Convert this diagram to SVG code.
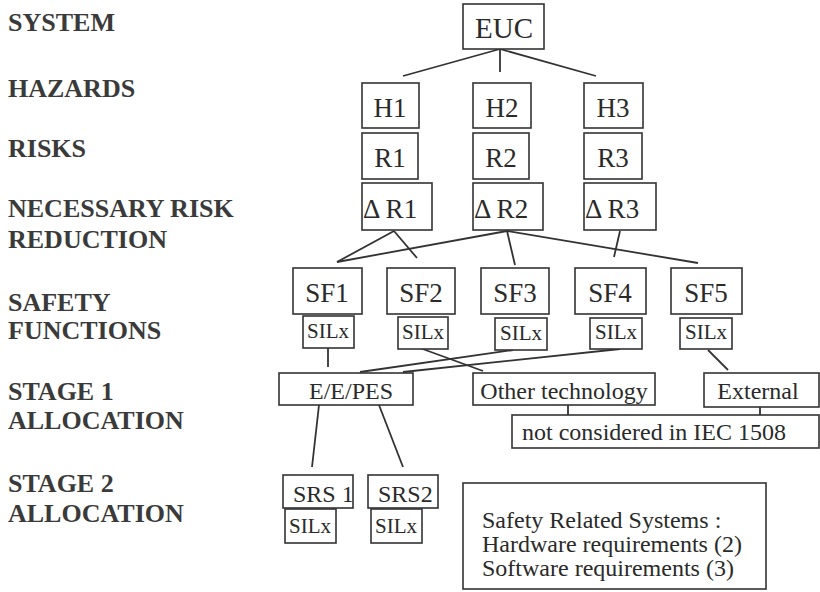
<svg xmlns="http://www.w3.org/2000/svg" width="820" height="592" viewBox="0 0 820 592" font-family="Liberation Serif">
<style>
svg text, svg g text, svg g text.t, svg g text.lbl{font-family:'Liberation Serif',serif !important}
.bg{fill:#fff}
.lbl{font-weight:bold;font-size:26px;fill:#3a3a3a}
.box{fill:#fff;stroke:#333;stroke-width:1.6}
.t{fill:#2a2a2a}
.big{font-size:29px}
.mid{font-size:27px}
.sm{font-size:21px}
.md{font-size:24px}
.c{text-anchor:middle}
.ln{stroke:#333;stroke-width:1.8;fill:none}
</style>
<rect class="bg" width="820" height="592"/>
<g id="labels">
<text class="lbl" x="8" y="31" font-family="Liberation Serif">SYSTEM</text>
<text class="lbl" x="8" y="97" font-family="Liberation Serif">HAZARDS</text>
<text class="lbl" x="8" y="157" font-family="Liberation Serif">RISKS</text>
<text class="lbl" x="8" y="217" font-family="Liberation Serif">NECESSARY RISK</text>
<text class="lbl" x="8" y="248" font-family="Liberation Serif">REDUCTION</text>
<text class="lbl" x="8" y="311" font-family="Liberation Serif">SAFETY</text>
<text class="lbl" x="8" y="339" font-family="Liberation Serif">FUNCTIONS</text>
<text class="lbl" x="8" y="400" font-family="Liberation Serif">STAGE 1</text>
<text class="lbl" x="8" y="429" font-family="Liberation Serif">ALLOCATION</text>
<text class="lbl" x="8" y="492" font-family="Liberation Serif">STAGE 2</text>
<text class="lbl" x="8" y="522" font-family="Liberation Serif">ALLOCATION</text>
</g>
<g id="connectors">
<line class="ln" x1="500" y1="49" x2="403" y2="76"/>
<line class="ln" x1="500" y1="49" x2="500" y2="72"/>
<line class="ln" x1="500" y1="49" x2="596" y2="76"/>
<line class="ln" x1="394" y1="231" x2="337" y2="262"/>
<line class="ln" x1="394" y1="231" x2="417" y2="258"/>
<line class="ln" x1="507" y1="231" x2="337" y2="262"/>
<line class="ln" x1="507" y1="231" x2="515" y2="265"/>
<line class="ln" x1="507" y1="231" x2="698" y2="263"/>
<line class="ln" x1="620" y1="231" x2="614" y2="257"/>
<line class="ln" x1="328" y1="348" x2="328" y2="367"/>
<line class="ln" x1="420" y1="348" x2="483" y2="371"/>
<line class="ln" x1="360" y1="372" x2="513" y2="350"/>
<line class="ln" x1="403" y1="372" x2="620" y2="349"/>
<line class="ln" x1="708" y1="350" x2="728" y2="370"/>
<line class="ln" x1="568" y1="405" x2="568" y2="415"/>
<line class="ln" x1="760" y1="407" x2="760" y2="415"/>
<line class="ln" x1="319" y1="405" x2="312" y2="467"/>
<line class="ln" x1="379" y1="405" x2="403" y2="467"/>
</g>
<g id="EUC"><rect class="box" x="463" y="4" width="81" height="45"/><text class="t big c" x="504" y="38" font-family="Liberation Serif">EUC</text></g>
<g id="H1"><rect class="box" x="362" y="83" width="57" height="45"/><text class="t mid c" x="390" y="117" font-family="Liberation Serif">H1</text></g>
<g id="H2"><rect class="box" x="473" y="83" width="58" height="45"/><text class="t mid c" x="502" y="117" font-family="Liberation Serif">H2</text></g>
<g id="H3"><rect class="box" x="584" y="83" width="59" height="45"/><text class="t mid c" x="613" y="117" font-family="Liberation Serif">H3</text></g>
<g id="R1"><rect class="box" x="362" y="133" width="56" height="46"/><text class="t mid c" x="390" y="167" font-family="Liberation Serif">R1</text></g>
<g id="R2"><rect class="box" x="473" y="133" width="56" height="46"/><text class="t mid c" x="501" y="167" font-family="Liberation Serif">R2</text></g>
<g id="R3"><rect class="box" x="584" y="133" width="58" height="46"/><text class="t mid c" x="613" y="167" font-family="Liberation Serif">R3</text></g>
<g id="dR1"><rect class="box" x="362" y="183" width="70" height="47"/><text class="t mid" x="363" y="218" font-family="Liberation Serif">Δ R1</text></g>
<g id="dR2"><rect class="box" x="473" y="183" width="70" height="47"/><text class="t mid" x="474" y="218" font-family="Liberation Serif">Δ R2</text></g>
<g id="dR3"><rect class="box" x="584" y="183" width="72" height="47"/><text class="t mid" x="585" y="218" font-family="Liberation Serif">Δ R3</text></g>
<g id="SF1"><rect class="box" x="293" y="268" width="69" height="46"/><text class="t mid c" x="327" y="302" font-family="Liberation Serif">SF1</text></g>
<g id="SF2"><rect class="box" x="387" y="268" width="68" height="46"/><text class="t mid c" x="421" y="302" font-family="Liberation Serif">SF2</text></g>
<g id="SF3"><rect class="box" x="481" y="268" width="68" height="46"/><text class="t mid c" x="515" y="302" font-family="Liberation Serif">SF3</text></g>
<g id="SF4"><rect class="box" x="575" y="268" width="71" height="46"/><text class="t mid c" x="610" y="302" font-family="Liberation Serif">SF4</text></g>
<g id="SF5"><rect class="box" x="671" y="268" width="71" height="46"/><text class="t mid c" x="706" y="302" font-family="Liberation Serif">SF5</text></g>
<g id="SIL1"><rect class="box" x="303" y="316" width="51" height="32"/><text class="t sm c" x="328" y="338" font-family="Liberation Serif">SILx</text></g>
<g id="SIL2"><rect class="box" x="398" y="317" width="50" height="32"/><text class="t sm c" x="423" y="339" font-family="Liberation Serif">SILx</text></g>
<g id="SIL3"><rect class="box" x="495" y="318" width="52" height="32"/><text class="t sm c" x="521" y="340" font-family="Liberation Serif">SILx</text></g>
<g id="SIL4"><rect class="box" x="590" y="318" width="52" height="31"/><text class="t sm c" x="616" y="339" font-family="Liberation Serif">SILx</text></g>
<g id="SIL5"><rect class="box" x="680" y="318" width="52" height="31"/><text class="t sm c" x="706" y="339" font-family="Liberation Serif">SILx</text></g>
<g id="EEPES"><rect class="box" x="279" y="373" width="134" height="32"/><text class="t md c" x="351" y="399" font-family="Liberation Serif">E/E/PES</text></g>
<g id="Other"><rect class="box" x="473" y="373" width="182" height="32"/><text class="t md c" x="564" y="399" font-family="Liberation Serif">Other technology</text></g>
<g id="External"><rect class="box" x="704" y="373" width="115" height="34"/><text class="t md c" x="758" y="399" font-family="Liberation Serif">External</text></g>
<g id="NotConsidered"><rect class="box" x="512" y="415" width="307" height="33"/><text class="t md" x="522" y="440" font-family="Liberation Serif">not considered in IEC 1508</text></g>
<g id="SRS1"><rect class="box" x="283" y="475" width="70" height="33"/><text class="t md" x="293" y="502" font-family="Liberation Serif">SRS 1</text></g>
<g id="SRS2"><rect class="box" x="368" y="475" width="70" height="33"/><text class="t md" x="378" y="502" font-family="Liberation Serif">SRS2</text></g>
<g id="SILS1"><rect class="box" x="285" y="509" width="51" height="34"/><text class="t sm c" x="310" y="533" font-family="Liberation Serif">SILx</text></g>
<g id="SILS2"><rect class="box" x="371" y="509" width="51" height="34"/><text class="t sm c" x="396" y="533" font-family="Liberation Serif">SILx</text></g>
<g id="Note"><rect class="box" x="463" y="483" width="303" height="106"/>
<text class="t md" x="482" y="528" font-family="Liberation Serif">Safety Related Systems :</text>
<text class="t md" x="482" y="552" font-family="Liberation Serif">Hardware requirements (2)</text>
<text class="t md" x="482" y="576" font-family="Liberation Serif">Software requirements  (3)</text></g>
</svg>
